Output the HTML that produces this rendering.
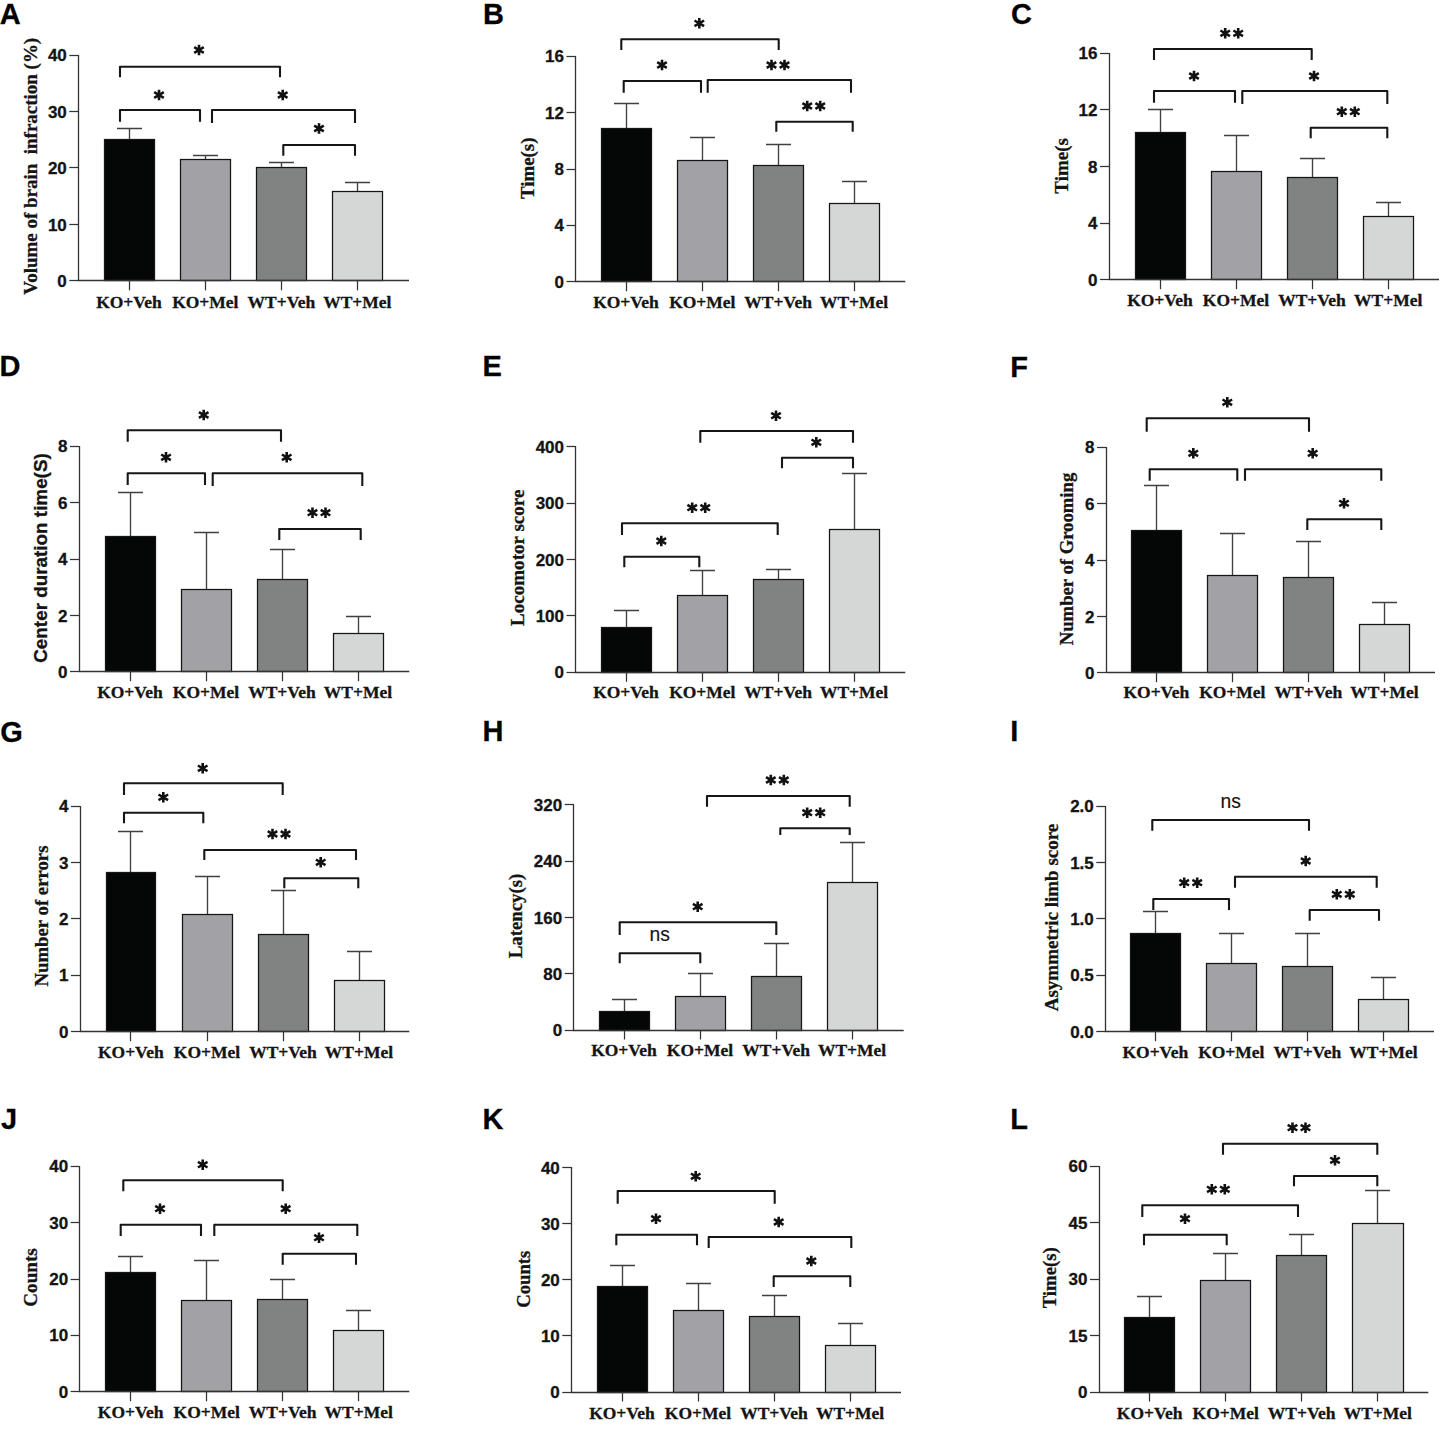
<!DOCTYPE html>
<html><head><meta charset="utf-8"><title>Figure</title>
<style>
html,body{margin:0;padding:0;background:#fff;}
body{width:1446px;height:1432px;overflow:hidden;}
svg{display:block;}
text{fill:#141414;stroke:#141414;stroke-width:0.3px;}
.pl{font-family:"Liberation Sans",sans-serif;font-weight:bold;font-size:29px;fill:#000;}
.tl{font-family:"Liberation Sans",sans-serif;font-weight:bold;font-size:17px;text-anchor:end;}
.xl{font-family:"Liberation Serif",serif;font-weight:bold;font-size:17.5px;text-anchor:middle;}
.yt{font-family:"Liberation Serif",serif;font-weight:bold;text-anchor:middle;}
.yts{font-family:"Liberation Sans",sans-serif;font-weight:bold;text-anchor:middle;}
.ns{font-family:"Liberation Sans",sans-serif;font-size:19.3px;text-anchor:middle;stroke-width:0.15px;}
</style></head><body>
<svg width="1446" height="1432" viewBox="0 0 1446 1432">
<rect width="1446" height="1432" fill="#ffffff"/>
<g>
<text x="-0.3" y="24.1" class="pl">A</text>
<path d="M129.5 139.5V128.5M117 128.5H142" stroke="#404040" stroke-width="1.35" fill="none"/>
<rect x="104.5" y="139.5" width="50" height="141" fill="#050707" stroke="#151515" stroke-width="1.25"/>
<path d="M129.5 280.8V290.3" stroke="#333333" stroke-width="1.25"/>
<text x="129" y="307.8" class="xl">KO+Veh</text>
<path d="M205.5 159.5V155.5M193 155.5H218" stroke="#404040" stroke-width="1.35" fill="none"/>
<rect x="180.5" y="159.5" width="50" height="121" fill="#a2a1a5" stroke="#151515" stroke-width="1.25"/>
<path d="M205.5 280.8V290.3" stroke="#333333" stroke-width="1.25"/>
<text x="205.3" y="307.8" class="xl">KO+Mel</text>
<path d="M281.5 167.5V162.5M269 162.5H294" stroke="#404040" stroke-width="1.35" fill="none"/>
<rect x="256.5" y="167.5" width="50" height="113" fill="#818383" stroke="#151515" stroke-width="1.25"/>
<path d="M281.5 280.8V290.3" stroke="#333333" stroke-width="1.25"/>
<text x="281.4" y="307.8" class="xl">WT+Veh</text>
<path d="M357.5 191.5V182.5M345 182.5H370" stroke="#404040" stroke-width="1.35" fill="none"/>
<rect x="332.5" y="191.5" width="50" height="89" fill="#d5d7d6" stroke="#151515" stroke-width="1.25"/>
<path d="M357.5 280.8V290.3" stroke="#333333" stroke-width="1.25"/>
<text x="357.3" y="307.8" class="xl">WT+Mel</text>
<path d="M78.5 54.9V280.5H409" stroke="#333333" stroke-width="1.3" fill="none"/>
<path d="M69.3 280.5H78.3" stroke="#333333" stroke-width="1.25"/>
<text x="66.8" y="286.9" class="tl">0</text>
<path d="M69.3 224.5H78.3" stroke="#333333" stroke-width="1.25"/>
<text x="66.8" y="230.5" class="tl">10</text>
<path d="M69.3 167.5H78.3" stroke="#333333" stroke-width="1.25"/>
<text x="66.8" y="174" class="tl">20</text>
<path d="M69.3 111.5H78.3" stroke="#333333" stroke-width="1.25"/>
<text x="66.8" y="117.5" class="tl">30</text>
<path d="M69.3 55.5H78.3" stroke="#333333" stroke-width="1.25"/>
<text x="66.8" y="61.1" class="tl">40</text>
<text transform="translate(37.2 166.3) rotate(-90)" class="yt" font-size="18.97" textLength="257" lengthAdjust="spacingAndGlyphs">Volume of brain  infraction (%)</text>
<path d="M120 77.3V66.7H280V77.3" stroke="#161616" stroke-width="2.1" fill="none" stroke-linejoin="round"/>
<path d="M199 44.8L199 55.2M194.2 47.2L203.8 52.8M203.8 47.2L194.2 52.8" stroke="#111" stroke-width="2.6" fill="none"/>
<path d="M120 121.7V110H200V121.7" stroke="#161616" stroke-width="2.1" fill="none" stroke-linejoin="round"/>
<path d="M159 89.8L159 100.2M154.2 92.2L163.8 97.8M163.8 92.2L154.2 97.8" stroke="#111" stroke-width="2.6" fill="none"/>
<path d="M212 123V110H355V123" stroke="#161616" stroke-width="2.1" fill="none" stroke-linejoin="round"/>
<path d="M282.7 89.8L282.7 100.2M277.9 92.2L287.5 97.8M287.5 92.2L277.9 97.8" stroke="#111" stroke-width="2.6" fill="none"/>
<path d="M283.3 155.7V145H355V155.7" stroke="#161616" stroke-width="2.1" fill="none" stroke-linejoin="round"/>
<path d="M319 123.3L319 133.7M314.2 125.7L323.8 131.3M323.8 125.7L314.2 131.3" stroke="#111" stroke-width="2.6" fill="none"/>
</g>
<g>
<text x="482.9" y="24.1" class="pl">B</text>
<path d="M626.5 128.5V103.5M614 103.5H639" stroke="#404040" stroke-width="1.35" fill="none"/>
<rect x="601.5" y="128.5" width="50" height="153" fill="#050707" stroke="#151515" stroke-width="1.25"/>
<path d="M626.5 281.7V291.2" stroke="#333333" stroke-width="1.25"/>
<text x="626" y="308.3" class="xl">KO+Veh</text>
<path d="M702.5 160.5V137.5M690 137.5H715" stroke="#404040" stroke-width="1.35" fill="none"/>
<rect x="677.5" y="160.5" width="50" height="121" fill="#a2a1a5" stroke="#151515" stroke-width="1.25"/>
<path d="M702.5 281.7V291.2" stroke="#333333" stroke-width="1.25"/>
<text x="702.3" y="308.3" class="xl">KO+Mel</text>
<path d="M778.5 165.5V144.5M766 144.5H791" stroke="#404040" stroke-width="1.35" fill="none"/>
<rect x="753.5" y="165.5" width="50" height="116" fill="#818383" stroke="#151515" stroke-width="1.25"/>
<path d="M778.5 281.7V291.2" stroke="#333333" stroke-width="1.25"/>
<text x="778.1" y="308.3" class="xl">WT+Veh</text>
<path d="M854.5 203.5V181.5M842 181.5H867" stroke="#404040" stroke-width="1.35" fill="none"/>
<rect x="829.5" y="203.5" width="50" height="78" fill="#d5d7d6" stroke="#151515" stroke-width="1.25"/>
<path d="M854.5 281.7V291.2" stroke="#333333" stroke-width="1.25"/>
<text x="854.1" y="308.3" class="xl">WT+Mel</text>
<path d="M575.5 55.9V281.5H905.3" stroke="#333333" stroke-width="1.3" fill="none"/>
<path d="M566.5 281.5H575.5" stroke="#333333" stroke-width="1.25"/>
<text x="564" y="287.8" class="tl">0</text>
<path d="M566.5 225.5H575.5" stroke="#333333" stroke-width="1.25"/>
<text x="564" y="231.4" class="tl">4</text>
<path d="M566.5 169.5H575.5" stroke="#333333" stroke-width="1.25"/>
<text x="564" y="175.1" class="tl">8</text>
<path d="M566.5 112.5H575.5" stroke="#333333" stroke-width="1.25"/>
<text x="564" y="118.8" class="tl">12</text>
<path d="M566.5 56.5H575.5" stroke="#333333" stroke-width="1.25"/>
<text x="564" y="62.4" class="tl">16</text>
<text transform="translate(534.4 168.3) rotate(-90)" class="yt" font-size="18.87" textLength="61.5" lengthAdjust="spacingAndGlyphs">Time(s)</text>
<path d="M621.3 50V39.3H778.7V50" stroke="#161616" stroke-width="2.1" fill="none" stroke-linejoin="round"/>
<path d="M699.3 18.1L699.3 28.5M694.5 20.5L704.1 26.1M704.1 20.5L694.5 26.1" stroke="#111" stroke-width="2.6" fill="none"/>
<path d="M623.7 92.7V81H701V92.7" stroke="#161616" stroke-width="2.1" fill="none" stroke-linejoin="round"/>
<path d="M662 59.8L662 70.2M657.2 62.2L666.8 67.8M666.8 62.2L657.2 67.8" stroke="#111" stroke-width="2.6" fill="none"/>
<path d="M707.7 92.7V80H851V92.7" stroke="#161616" stroke-width="2.1" fill="none" stroke-linejoin="round"/>
<path d="M771.5 59.8L771.5 70.2M766.7 62.2L776.3 67.8M776.3 62.2L766.7 67.8" stroke="#111" stroke-width="2.6" fill="none"/>
<path d="M784.5 59.8L784.5 70.2M779.7 62.2L789.3 67.8M789.3 62.2L779.7 67.8" stroke="#111" stroke-width="2.6" fill="none"/>
<path d="M776.3 131.7V121.7H852.7V131.7" stroke="#161616" stroke-width="2.1" fill="none" stroke-linejoin="round"/>
<path d="M807.2 100.8L807.2 111.2M802.4 103.2L812 108.8M812 103.2L802.4 108.8" stroke="#111" stroke-width="2.6" fill="none"/>
<path d="M820.2 100.8L820.2 111.2M815.4 103.2L825 108.8M825 103.2L815.4 108.8" stroke="#111" stroke-width="2.6" fill="none"/>
</g>
<g>
<text x="1010.9" y="24.1" class="pl">C</text>
<path d="M1160.5 132.5V109.5M1148 109.5H1173" stroke="#404040" stroke-width="1.35" fill="none"/>
<rect x="1135.5" y="132.5" width="50" height="147" fill="#050707" stroke="#151515" stroke-width="1.25"/>
<path d="M1160.5 279.7V289.2" stroke="#333333" stroke-width="1.25"/>
<text x="1160" y="306" class="xl">KO+Veh</text>
<path d="M1236.5 171.5V135.5M1224 135.5H1249" stroke="#404040" stroke-width="1.35" fill="none"/>
<rect x="1211.5" y="171.5" width="50" height="108" fill="#a2a1a5" stroke="#151515" stroke-width="1.25"/>
<path d="M1236.5 279.7V289.2" stroke="#333333" stroke-width="1.25"/>
<text x="1236" y="306" class="xl">KO+Mel</text>
<path d="M1312.5 177.5V158.5M1300 158.5H1325" stroke="#404040" stroke-width="1.35" fill="none"/>
<rect x="1287.5" y="177.5" width="50" height="102" fill="#818383" stroke="#151515" stroke-width="1.25"/>
<path d="M1312.5 279.7V289.2" stroke="#333333" stroke-width="1.25"/>
<text x="1312" y="306" class="xl">WT+Veh</text>
<path d="M1388.5 216.5V202.5M1376 202.5H1401" stroke="#404040" stroke-width="1.35" fill="none"/>
<rect x="1363.5" y="216.5" width="50" height="63" fill="#d5d7d6" stroke="#151515" stroke-width="1.25"/>
<path d="M1388.5 279.7V289.2" stroke="#333333" stroke-width="1.25"/>
<text x="1388.2" y="306" class="xl">WT+Mel</text>
<path d="M1109.5 52.9V279.5H1439" stroke="#333333" stroke-width="1.3" fill="none"/>
<path d="M1100 279.5H1109" stroke="#333333" stroke-width="1.25"/>
<text x="1097.5" y="285.8" class="tl">0</text>
<path d="M1100 223.5H1109" stroke="#333333" stroke-width="1.25"/>
<text x="1097.5" y="229.2" class="tl">4</text>
<path d="M1100 166.5H1109" stroke="#333333" stroke-width="1.25"/>
<text x="1097.5" y="172.6" class="tl">8</text>
<path d="M1100 109.5H1109" stroke="#333333" stroke-width="1.25"/>
<text x="1097.5" y="116" class="tl">12</text>
<path d="M1100 53.5H1109" stroke="#333333" stroke-width="1.25"/>
<text x="1097.5" y="59.4" class="tl">16</text>
<text transform="translate(1068.3 165.9) rotate(-90)" class="yt" font-size="18.97" textLength="55.5" lengthAdjust="spacingAndGlyphs">Time(s</text>
<path d="M1154 60V49H1311.7V60" stroke="#161616" stroke-width="2.1" fill="none" stroke-linejoin="round"/>
<path d="M1225.2 28.1L1225.2 38.5M1220.4 30.5L1230 36.1M1230 30.5L1220.4 36.1" stroke="#111" stroke-width="2.6" fill="none"/>
<path d="M1238.2 28.1L1238.2 38.5M1233.4 30.5L1243 36.1M1243 30.5L1233.4 36.1" stroke="#111" stroke-width="2.6" fill="none"/>
<path d="M1154 102.7V91H1235V102.7" stroke="#161616" stroke-width="2.1" fill="none" stroke-linejoin="round"/>
<path d="M1194 70.8L1194 81.2M1189.2 73.2L1198.8 78.8M1198.8 73.2L1189.2 78.8" stroke="#111" stroke-width="2.6" fill="none"/>
<path d="M1242.3 104V91H1387.3V104" stroke="#161616" stroke-width="2.1" fill="none" stroke-linejoin="round"/>
<path d="M1314 70.8L1314 81.2M1309.2 73.2L1318.8 78.8M1318.8 73.2L1309.2 78.8" stroke="#111" stroke-width="2.6" fill="none"/>
<path d="M1310.7 138.3V127.7H1387.3V138.3" stroke="#161616" stroke-width="2.1" fill="none" stroke-linejoin="round"/>
<path d="M1341.8 106.5L1341.8 116.9M1337 108.9L1346.6 114.5M1346.6 108.9L1337 114.5" stroke="#111" stroke-width="2.6" fill="none"/>
<path d="M1354.8 106.5L1354.8 116.9M1350 108.9L1359.6 114.5M1359.6 108.9L1350 114.5" stroke="#111" stroke-width="2.6" fill="none"/>
</g>
<g>
<text x="-0.4" y="376" class="pl">D</text>
<path d="M130.5 536.5V492.5M118 492.5H143" stroke="#404040" stroke-width="1.35" fill="none"/>
<rect x="105.5" y="536.5" width="50" height="135" fill="#050707" stroke="#151515" stroke-width="1.25"/>
<path d="M130.5 671.7V681.2" stroke="#333333" stroke-width="1.25"/>
<text x="130" y="697.7" class="xl">KO+Veh</text>
<path d="M206.5 589.5V532.5M194 532.5H219" stroke="#404040" stroke-width="1.35" fill="none"/>
<rect x="181.5" y="589.5" width="50" height="82" fill="#a2a1a5" stroke="#151515" stroke-width="1.25"/>
<path d="M206.5 671.7V681.2" stroke="#333333" stroke-width="1.25"/>
<text x="206" y="697.7" class="xl">KO+Mel</text>
<path d="M282.5 579.5V549.5M270 549.5H295" stroke="#404040" stroke-width="1.35" fill="none"/>
<rect x="257.5" y="579.5" width="50" height="92" fill="#818383" stroke="#151515" stroke-width="1.25"/>
<path d="M282.5 671.7V681.2" stroke="#333333" stroke-width="1.25"/>
<text x="282" y="697.7" class="xl">WT+Veh</text>
<path d="M358.5 633.5V616.5M346 616.5H371" stroke="#404040" stroke-width="1.35" fill="none"/>
<rect x="333.5" y="633.5" width="50" height="38" fill="#d5d7d6" stroke="#151515" stroke-width="1.25"/>
<path d="M358.5 671.7V681.2" stroke="#333333" stroke-width="1.25"/>
<text x="358" y="697.7" class="xl">WT+Mel</text>
<path d="M79.5 445.9V671.5H409.3" stroke="#333333" stroke-width="1.3" fill="none"/>
<path d="M70 671.5H79" stroke="#333333" stroke-width="1.25"/>
<text x="67.5" y="677.8" class="tl">0</text>
<path d="M70 615.5H79" stroke="#333333" stroke-width="1.25"/>
<text x="67.5" y="621.5" class="tl">2</text>
<path d="M70 559.5H79" stroke="#333333" stroke-width="1.25"/>
<text x="67.5" y="565.1" class="tl">4</text>
<path d="M70 502.5H79" stroke="#333333" stroke-width="1.25"/>
<text x="67.5" y="508.8" class="tl">6</text>
<path d="M70 446.5H79" stroke="#333333" stroke-width="1.25"/>
<text x="67.5" y="452.4" class="tl">8</text>
<text transform="translate(47.2 558) rotate(-90)" class="yts" font-size="18.85" textLength="209.5" lengthAdjust="spacingAndGlyphs">Center duration time(S)</text>
<path d="M127.7 441.7V430.3H281V441.7" stroke="#161616" stroke-width="2.1" fill="none" stroke-linejoin="round"/>
<path d="M203.7 409.8L203.7 420.2M198.9 412.2L208.5 417.8M208.5 412.2L198.9 417.8" stroke="#111" stroke-width="2.6" fill="none"/>
<path d="M127.7 485V473.3H205V485" stroke="#161616" stroke-width="2.1" fill="none" stroke-linejoin="round"/>
<path d="M166 452.1L166 462.5M161.2 454.5L170.8 460.1M170.8 454.5L161.2 460.1" stroke="#111" stroke-width="2.6" fill="none"/>
<path d="M212.7 486V473.3H362.3V486" stroke="#161616" stroke-width="2.1" fill="none" stroke-linejoin="round"/>
<path d="M286.7 452.1L286.7 462.5M281.9 454.5L291.5 460.1M291.5 454.5L281.9 460.1" stroke="#111" stroke-width="2.6" fill="none"/>
<path d="M279.3 540V529H360.7V540" stroke="#161616" stroke-width="2.1" fill="none" stroke-linejoin="round"/>
<path d="M312.5 507.5L312.5 517.9M307.7 509.9L317.3 515.5M317.3 509.9L307.7 515.5" stroke="#111" stroke-width="2.6" fill="none"/>
<path d="M325.5 507.5L325.5 517.9M320.7 509.9L330.3 515.5M330.3 509.9L320.7 515.5" stroke="#111" stroke-width="2.6" fill="none"/>
</g>
<g>
<text x="482.6" y="376" class="pl">E</text>
<path d="M626.5 627.5V610.5M614 610.5H639" stroke="#404040" stroke-width="1.35" fill="none"/>
<rect x="601.5" y="627.5" width="50" height="45" fill="#050707" stroke="#151515" stroke-width="1.25"/>
<path d="M626.5 672.3V681.8" stroke="#333333" stroke-width="1.25"/>
<text x="626" y="698.3" class="xl">KO+Veh</text>
<path d="M702.5 595.5V570.5M690 570.5H715" stroke="#404040" stroke-width="1.35" fill="none"/>
<rect x="677.5" y="595.5" width="50" height="77" fill="#a2a1a5" stroke="#151515" stroke-width="1.25"/>
<path d="M702.5 672.3V681.8" stroke="#333333" stroke-width="1.25"/>
<text x="702.3" y="698.3" class="xl">KO+Mel</text>
<path d="M778.5 579.5V569.5M766 569.5H791" stroke="#404040" stroke-width="1.35" fill="none"/>
<rect x="753.5" y="579.5" width="50" height="93" fill="#818383" stroke="#151515" stroke-width="1.25"/>
<path d="M778.5 672.3V681.8" stroke="#333333" stroke-width="1.25"/>
<text x="778.1" y="698.3" class="xl">WT+Veh</text>
<path d="M854.5 529.5V473.5M842 473.5H867" stroke="#404040" stroke-width="1.35" fill="none"/>
<rect x="829.5" y="529.5" width="50" height="143" fill="#d5d7d6" stroke="#151515" stroke-width="1.25"/>
<path d="M854.5 672.3V681.8" stroke="#333333" stroke-width="1.25"/>
<text x="854.1" y="698.3" class="xl">WT+Mel</text>
<path d="M575.5 445.9V672.5H905.3" stroke="#333333" stroke-width="1.3" fill="none"/>
<path d="M566.5 672.5H575.5" stroke="#333333" stroke-width="1.25"/>
<text x="564" y="678.4" class="tl">0</text>
<path d="M566.5 615.5H575.5" stroke="#333333" stroke-width="1.25"/>
<text x="564" y="622" class="tl">100</text>
<path d="M566.5 559.5H575.5" stroke="#333333" stroke-width="1.25"/>
<text x="564" y="565.6" class="tl">200</text>
<path d="M566.5 503.5H575.5" stroke="#333333" stroke-width="1.25"/>
<text x="564" y="509.2" class="tl">300</text>
<path d="M566.5 446.5H575.5" stroke="#333333" stroke-width="1.25"/>
<text x="564" y="452.8" class="tl">400</text>
<text transform="translate(523.7 557.8) rotate(-90)" class="yt" font-size="19.08" textLength="136.5" lengthAdjust="spacingAndGlyphs">Locomotor score</text>
<path d="M700.3 442.7V431H853V442.7" stroke="#161616" stroke-width="2.1" fill="none" stroke-linejoin="round"/>
<path d="M776 410.5L776 420.9M771.2 412.9L780.8 418.5M780.8 412.9L771.2 418.5" stroke="#111" stroke-width="2.6" fill="none"/>
<path d="M782 468.3V457.7H853V468.3" stroke="#161616" stroke-width="2.1" fill="none" stroke-linejoin="round"/>
<path d="M816.3 437.1L816.3 447.5M811.5 439.5L821.1 445.1M821.1 439.5L811.5 445.1" stroke="#111" stroke-width="2.6" fill="none"/>
<path d="M622 535V523.3H777.7V535" stroke="#161616" stroke-width="2.1" fill="none" stroke-linejoin="round"/>
<path d="M692.2 502.5L692.2 512.9M687.4 504.9L697 510.5M697 504.9L687.4 510.5" stroke="#111" stroke-width="2.6" fill="none"/>
<path d="M705.2 502.5L705.2 512.9M700.4 504.9L710 510.5M710 504.9L700.4 510.5" stroke="#111" stroke-width="2.6" fill="none"/>
<path d="M624.3 567.3V556.7H699.3V567.3" stroke="#161616" stroke-width="2.1" fill="none" stroke-linejoin="round"/>
<path d="M661.3 535.8L661.3 546.2M656.5 538.2L666.1 543.8M666.1 538.2L656.5 543.8" stroke="#111" stroke-width="2.6" fill="none"/>
</g>
<g>
<text x="1010.2" y="376.5" class="pl">F</text>
<path d="M1156.5 530.5V485.5M1144 485.5H1169" stroke="#404040" stroke-width="1.35" fill="none"/>
<rect x="1131.5" y="530.5" width="50" height="142" fill="#050707" stroke="#151515" stroke-width="1.25"/>
<path d="M1156.5 672.7V682.2" stroke="#333333" stroke-width="1.25"/>
<text x="1156.3" y="698.3" class="xl">KO+Veh</text>
<path d="M1232.5 575.5V533.5M1220 533.5H1245" stroke="#404040" stroke-width="1.35" fill="none"/>
<rect x="1207.5" y="575.5" width="50" height="97" fill="#a2a1a5" stroke="#151515" stroke-width="1.25"/>
<path d="M1232.5 672.7V682.2" stroke="#333333" stroke-width="1.25"/>
<text x="1232.3" y="698.3" class="xl">KO+Mel</text>
<path d="M1308.5 577.5V541.5M1296 541.5H1321" stroke="#404040" stroke-width="1.35" fill="none"/>
<rect x="1283.5" y="577.5" width="50" height="95" fill="#818383" stroke="#151515" stroke-width="1.25"/>
<path d="M1308.5 672.7V682.2" stroke="#333333" stroke-width="1.25"/>
<text x="1308.3" y="698.3" class="xl">WT+Veh</text>
<path d="M1384.5 624.5V602.5M1372 602.5H1397" stroke="#404040" stroke-width="1.35" fill="none"/>
<rect x="1359.5" y="624.5" width="50" height="48" fill="#d5d7d6" stroke="#151515" stroke-width="1.25"/>
<path d="M1384.5 672.7V682.2" stroke="#333333" stroke-width="1.25"/>
<text x="1384.5" y="698.3" class="xl">WT+Mel</text>
<path d="M1106.5 446.9V672.5H1435" stroke="#333333" stroke-width="1.3" fill="none"/>
<path d="M1097 672.5H1106" stroke="#333333" stroke-width="1.25"/>
<text x="1094.5" y="678.8" class="tl">0</text>
<path d="M1097 616.5H1106" stroke="#333333" stroke-width="1.25"/>
<text x="1094.5" y="622.5" class="tl">2</text>
<path d="M1097 560.5H1106" stroke="#333333" stroke-width="1.25"/>
<text x="1094.5" y="566.1" class="tl">4</text>
<path d="M1097 503.5H1106" stroke="#333333" stroke-width="1.25"/>
<text x="1094.5" y="509.8" class="tl">6</text>
<path d="M1097 447.5H1106" stroke="#333333" stroke-width="1.25"/>
<text x="1094.5" y="453.4" class="tl">8</text>
<text transform="translate(1073.3 559) rotate(-90)" class="yt" font-size="18.67" textLength="172.5" lengthAdjust="spacingAndGlyphs">Number of Grooming</text>
<path d="M1146.7 431.7V418.3H1309V431.7" stroke="#161616" stroke-width="2.1" fill="none" stroke-linejoin="round"/>
<path d="M1227.3 397.1L1227.3 407.5M1222.5 399.5L1232.1 405.1M1232.1 399.5L1222.5 405.1" stroke="#111" stroke-width="2.6" fill="none"/>
<path d="M1149.7 480.7V469.3H1237.3V480.7" stroke="#161616" stroke-width="2.1" fill="none" stroke-linejoin="round"/>
<path d="M1193.3 448.1L1193.3 458.5M1188.5 450.5L1198.1 456.1M1198.1 450.5L1188.5 456.1" stroke="#111" stroke-width="2.6" fill="none"/>
<path d="M1245 480.7V469.3H1381.3V480.7" stroke="#161616" stroke-width="2.1" fill="none" stroke-linejoin="round"/>
<path d="M1312.7 448.1L1312.7 458.5M1307.9 450.5L1317.5 456.1M1317.5 450.5L1307.9 456.1" stroke="#111" stroke-width="2.6" fill="none"/>
<path d="M1307.3 530V519.3H1381.3V530" stroke="#161616" stroke-width="2.1" fill="none" stroke-linejoin="round"/>
<path d="M1344 498.1L1344 508.5M1339.2 500.5L1348.8 506.1M1348.8 500.5L1339.2 506.1" stroke="#111" stroke-width="2.6" fill="none"/>
</g>
<g>
<text x="0.3" y="741.5" class="pl">G</text>
<path d="M130.5 872.5V831.5M118 831.5H143" stroke="#404040" stroke-width="1.35" fill="none"/>
<rect x="106.5" y="872.5" width="49" height="159" fill="#050707" stroke="#151515" stroke-width="1.25"/>
<path d="M130.5 1031.7V1041.2" stroke="#333333" stroke-width="1.25"/>
<text x="130.8" y="1057.7" class="xl">KO+Veh</text>
<path d="M207.5 914.5V876.5M195 876.5H220" stroke="#404040" stroke-width="1.35" fill="none"/>
<rect x="182.5" y="914.5" width="50" height="117" fill="#a2a1a5" stroke="#151515" stroke-width="1.25"/>
<path d="M207.5 1031.7V1041.2" stroke="#333333" stroke-width="1.25"/>
<text x="207" y="1057.7" class="xl">KO+Mel</text>
<path d="M283.5 934.5V890.5M271 890.5H296" stroke="#404040" stroke-width="1.35" fill="none"/>
<rect x="258.5" y="934.5" width="50" height="97" fill="#818383" stroke="#151515" stroke-width="1.25"/>
<path d="M283.5 1031.7V1041.2" stroke="#333333" stroke-width="1.25"/>
<text x="283" y="1057.7" class="xl">WT+Veh</text>
<path d="M359.5 980.5V951.5M347 951.5H372" stroke="#404040" stroke-width="1.35" fill="none"/>
<rect x="334.5" y="980.5" width="50" height="51" fill="#d5d7d6" stroke="#151515" stroke-width="1.25"/>
<path d="M359.5 1031.7V1041.2" stroke="#333333" stroke-width="1.25"/>
<text x="359" y="1057.7" class="xl">WT+Mel</text>
<path d="M80.5 805.9V1031.5H409.3" stroke="#333333" stroke-width="1.3" fill="none"/>
<path d="M71 1031.5H80" stroke="#333333" stroke-width="1.25"/>
<text x="68.5" y="1037.8" class="tl">0</text>
<path d="M71 975.5H80" stroke="#333333" stroke-width="1.25"/>
<text x="68.5" y="981.4" class="tl">1</text>
<path d="M71 918.5H80" stroke="#333333" stroke-width="1.25"/>
<text x="68.5" y="925" class="tl">2</text>
<path d="M71 862.5H80" stroke="#333333" stroke-width="1.25"/>
<text x="68.5" y="868.5" class="tl">3</text>
<path d="M71 806.5H80" stroke="#333333" stroke-width="1.25"/>
<text x="68.5" y="812.1" class="tl">4</text>
<text transform="translate(47.7 916) rotate(-90)" class="yt" font-size="18.76" textLength="141" lengthAdjust="spacingAndGlyphs">Number of errors</text>
<path d="M124 795V783.3H282.7V795" stroke="#161616" stroke-width="2.1" fill="none" stroke-linejoin="round"/>
<path d="M202.7 763.1L202.7 773.5M197.9 765.5L207.5 771.1M207.5 765.5L197.9 771.1" stroke="#111" stroke-width="2.6" fill="none"/>
<path d="M124 823.3V812.7H203.3V823.3" stroke="#161616" stroke-width="2.1" fill="none" stroke-linejoin="round"/>
<path d="M163.3 792.1L163.3 802.5M158.5 794.5L168.1 800.1M168.1 794.5L158.5 800.1" stroke="#111" stroke-width="2.6" fill="none"/>
<path d="M204.3 860V850H356V860" stroke="#161616" stroke-width="2.1" fill="none" stroke-linejoin="round"/>
<path d="M272.5 828.8L272.5 839.2M267.7 831.2L277.3 836.8M277.3 831.2L267.7 836.8" stroke="#111" stroke-width="2.6" fill="none"/>
<path d="M285.5 828.8L285.5 839.2M280.7 831.2L290.3 836.8M290.3 831.2L280.7 836.8" stroke="#111" stroke-width="2.6" fill="none"/>
<path d="M284.3 888.3V878.3H358.3V888.3" stroke="#161616" stroke-width="2.1" fill="none" stroke-linejoin="round"/>
<path d="M320.7 857.1L320.7 867.5M315.9 859.5L325.5 865.1M325.5 859.5L315.9 865.1" stroke="#111" stroke-width="2.6" fill="none"/>
</g>
<g>
<text x="482.6" y="740.7" class="pl">H</text>
<path d="M624.5 1011.5V999.5M612 999.5H637" stroke="#404040" stroke-width="1.35" fill="none"/>
<rect x="599.5" y="1011.5" width="50" height="19" fill="#050707" stroke="#151515" stroke-width="1.25"/>
<path d="M624.5 1030V1039.5" stroke="#333333" stroke-width="1.25"/>
<text x="624" y="1055.7" class="xl">KO+Veh</text>
<path d="M700.5 996.5V973.5M688 973.5H713" stroke="#404040" stroke-width="1.35" fill="none"/>
<rect x="675.5" y="996.5" width="50" height="34" fill="#a2a1a5" stroke="#151515" stroke-width="1.25"/>
<path d="M700.5 1030V1039.5" stroke="#333333" stroke-width="1.25"/>
<text x="700" y="1055.7" class="xl">KO+Mel</text>
<path d="M776.5 976.5V943.5M764 943.5H789" stroke="#404040" stroke-width="1.35" fill="none"/>
<rect x="751.5" y="976.5" width="50" height="54" fill="#818383" stroke="#151515" stroke-width="1.25"/>
<path d="M776.5 1030V1039.5" stroke="#333333" stroke-width="1.25"/>
<text x="776.1" y="1055.7" class="xl">WT+Veh</text>
<path d="M852.5 882.5V842.5M840 842.5H865" stroke="#404040" stroke-width="1.35" fill="none"/>
<rect x="827.5" y="882.5" width="50" height="148" fill="#d5d7d6" stroke="#151515" stroke-width="1.25"/>
<path d="M852.5 1030V1039.5" stroke="#333333" stroke-width="1.25"/>
<text x="852.1" y="1055.7" class="xl">WT+Mel</text>
<path d="M573.5 803.9V1030.5H903.7" stroke="#333333" stroke-width="1.3" fill="none"/>
<path d="M564.7 1030.5H573.7" stroke="#333333" stroke-width="1.25"/>
<text x="562.2" y="1036.1" class="tl">0</text>
<path d="M564.7 973.5H573.7" stroke="#333333" stroke-width="1.25"/>
<text x="562.2" y="979.8" class="tl">80</text>
<path d="M564.7 917.5H573.7" stroke="#333333" stroke-width="1.25"/>
<text x="562.2" y="923.5" class="tl">160</text>
<path d="M564.7 861.5H573.7" stroke="#333333" stroke-width="1.25"/>
<text x="562.2" y="867.1" class="tl">240</text>
<path d="M564.7 804.5H573.7" stroke="#333333" stroke-width="1.25"/>
<text x="562.2" y="810.8" class="tl">320</text>
<text transform="translate(522 916) rotate(-90)" class="yt" font-size="18.78" textLength="84.5" lengthAdjust="spacingAndGlyphs">Latency(s)</text>
<path d="M707 806.7V796H849.7V806.7" stroke="#161616" stroke-width="2.1" fill="none" stroke-linejoin="round"/>
<path d="M770.8 774.8L770.8 785.2M766 777.2L775.6 782.8M775.6 777.2L766 782.8" stroke="#111" stroke-width="2.6" fill="none"/>
<path d="M783.8 774.8L783.8 785.2M779 777.2L788.6 782.8M788.6 777.2L779 782.8" stroke="#111" stroke-width="2.6" fill="none"/>
<path d="M780.3 835V828.3H849.7V835" stroke="#161616" stroke-width="2.1" fill="none" stroke-linejoin="round"/>
<path d="M807.2 807.5L807.2 817.9M802.4 809.9L812 815.5M812 809.9L802.4 815.5" stroke="#111" stroke-width="2.6" fill="none"/>
<path d="M820.2 807.5L820.2 817.9M815.4 809.9L825 815.5M825 809.9L815.4 815.5" stroke="#111" stroke-width="2.6" fill="none"/>
<path d="M619.7 935V922.3H776.3V935" stroke="#161616" stroke-width="2.1" fill="none" stroke-linejoin="round"/>
<path d="M697.7 901.5L697.7 911.9M692.9 903.9L702.5 909.5M702.5 903.9L692.9 909.5" stroke="#111" stroke-width="2.6" fill="none"/>
<path d="M619.7 963.3V953.3H700.3V963.3" stroke="#161616" stroke-width="2.1" fill="none" stroke-linejoin="round"/>
<text x="659.7" y="940.9" class="ns">ns</text>
</g>
<g>
<text x="1010.2" y="740.7" class="pl">I</text>
<path d="M1155.5 933.5V911.5M1143 911.5H1168" stroke="#404040" stroke-width="1.35" fill="none"/>
<rect x="1130.5" y="933.5" width="50" height="98" fill="#050707" stroke="#151515" stroke-width="1.25"/>
<path d="M1155.5 1031.7V1041.2" stroke="#333333" stroke-width="1.25"/>
<text x="1155.3" y="1057.7" class="xl">KO+Veh</text>
<path d="M1231.5 963.5V933.5M1219 933.5H1244" stroke="#404040" stroke-width="1.35" fill="none"/>
<rect x="1206.5" y="963.5" width="50" height="68" fill="#a2a1a5" stroke="#151515" stroke-width="1.25"/>
<path d="M1231.5 1031.7V1041.2" stroke="#333333" stroke-width="1.25"/>
<text x="1231.3" y="1057.7" class="xl">KO+Mel</text>
<path d="M1307.5 966.5V933.5M1295 933.5H1320" stroke="#404040" stroke-width="1.35" fill="none"/>
<rect x="1282.5" y="966.5" width="50" height="65" fill="#818383" stroke="#151515" stroke-width="1.25"/>
<path d="M1307.5 1031.7V1041.2" stroke="#333333" stroke-width="1.25"/>
<text x="1307.3" y="1057.7" class="xl">WT+Veh</text>
<path d="M1383.5 999.5V977.5M1371 977.5H1396" stroke="#404040" stroke-width="1.35" fill="none"/>
<rect x="1358.5" y="999.5" width="50" height="32" fill="#d5d7d6" stroke="#151515" stroke-width="1.25"/>
<path d="M1383.5 1031.7V1041.2" stroke="#333333" stroke-width="1.25"/>
<text x="1383.5" y="1057.7" class="xl">WT+Mel</text>
<path d="M1105.5 805.9V1031.5H1434" stroke="#333333" stroke-width="1.3" fill="none"/>
<path d="M1096.3 1031.5H1105.3" stroke="#333333" stroke-width="1.25"/>
<text x="1093.8" y="1037.8" class="tl">0.0</text>
<path d="M1096.3 975.5H1105.3" stroke="#333333" stroke-width="1.25"/>
<text x="1093.8" y="981.4" class="tl">0.5</text>
<path d="M1096.3 918.5H1105.3" stroke="#333333" stroke-width="1.25"/>
<text x="1093.8" y="925" class="tl">1.0</text>
<path d="M1096.3 862.5H1105.3" stroke="#333333" stroke-width="1.25"/>
<text x="1093.8" y="868.5" class="tl">1.5</text>
<path d="M1096.3 806.5H1105.3" stroke="#333333" stroke-width="1.25"/>
<text x="1093.8" y="812.1" class="tl">2.0</text>
<text transform="translate(1058.3 917.5) rotate(-90)" class="yt" font-size="19.00" textLength="187.5" lengthAdjust="spacingAndGlyphs">Asymmetric limb score</text>
<path d="M1152.3 830.7V820H1309V830.7" stroke="#161616" stroke-width="2.1" fill="none" stroke-linejoin="round"/>
<text x="1230.7" y="807.9" class="ns">ns</text>
<path d="M1153.3 910V899H1229V910" stroke="#161616" stroke-width="2.1" fill="none" stroke-linejoin="round"/>
<path d="M1184.2 877.5L1184.2 887.9M1179.4 879.9L1189 885.5M1189 879.9L1179.4 885.5" stroke="#111" stroke-width="2.6" fill="none"/>
<path d="M1197.2 877.5L1197.2 887.9M1192.4 879.9L1202 885.5M1202 879.9L1192.4 885.5" stroke="#111" stroke-width="2.6" fill="none"/>
<path d="M1235 887.7V876.7H1376.7V887.7" stroke="#161616" stroke-width="2.1" fill="none" stroke-linejoin="round"/>
<path d="M1305.7 855.8L1305.7 866.2M1300.9 858.2L1310.5 863.8M1310.5 858.2L1300.9 863.8" stroke="#111" stroke-width="2.6" fill="none"/>
<path d="M1309.7 920.7V910H1379V920.7" stroke="#161616" stroke-width="2.1" fill="none" stroke-linejoin="round"/>
<path d="M1336.8 889.1L1336.8 899.5M1332 891.5L1341.6 897.1M1341.6 891.5L1332 897.1" stroke="#111" stroke-width="2.6" fill="none"/>
<path d="M1349.8 889.1L1349.8 899.5M1345 891.5L1354.6 897.1M1354.6 891.5L1345 897.1" stroke="#111" stroke-width="2.6" fill="none"/>
</g>
<g>
<text x="1" y="1128.7" class="pl">J</text>
<path d="M130.5 1272.5V1256.5M118 1256.5H143" stroke="#404040" stroke-width="1.35" fill="none"/>
<rect x="105.5" y="1272.5" width="50" height="119" fill="#050707" stroke="#151515" stroke-width="1.25"/>
<path d="M130.5 1391.7V1401.2" stroke="#333333" stroke-width="1.25"/>
<text x="130.7" y="1418" class="xl">KO+Veh</text>
<path d="M206.5 1300.5V1260.5M194 1260.5H219" stroke="#404040" stroke-width="1.35" fill="none"/>
<rect x="181.5" y="1300.5" width="50" height="91" fill="#a2a1a5" stroke="#151515" stroke-width="1.25"/>
<path d="M206.5 1391.7V1401.2" stroke="#333333" stroke-width="1.25"/>
<text x="206.7" y="1418" class="xl">KO+Mel</text>
<path d="M282.5 1299.5V1279.5M270 1279.5H295" stroke="#404040" stroke-width="1.35" fill="none"/>
<rect x="257.5" y="1299.5" width="50" height="92" fill="#818383" stroke="#151515" stroke-width="1.25"/>
<path d="M282.5 1391.7V1401.2" stroke="#333333" stroke-width="1.25"/>
<text x="282.7" y="1418" class="xl">WT+Veh</text>
<path d="M358.5 1330.5V1310.5M346 1310.5H371" stroke="#404040" stroke-width="1.35" fill="none"/>
<rect x="333.5" y="1330.5" width="50" height="61" fill="#d5d7d6" stroke="#151515" stroke-width="1.25"/>
<path d="M358.5 1391.7V1401.2" stroke="#333333" stroke-width="1.25"/>
<text x="358.7" y="1418" class="xl">WT+Mel</text>
<path d="M79.5 1165.9V1391.5H409.3" stroke="#333333" stroke-width="1.3" fill="none"/>
<path d="M70.6 1391.5H79.6" stroke="#333333" stroke-width="1.25"/>
<text x="68.1" y="1397.8" class="tl">0</text>
<path d="M70.6 1335.5H79.6" stroke="#333333" stroke-width="1.25"/>
<text x="68.1" y="1341.4" class="tl">10</text>
<path d="M70.6 1279.5H79.6" stroke="#333333" stroke-width="1.25"/>
<text x="68.1" y="1285.1" class="tl">20</text>
<path d="M70.6 1222.5H79.6" stroke="#333333" stroke-width="1.25"/>
<text x="68.1" y="1228.8" class="tl">30</text>
<path d="M70.6 1166.5H79.6" stroke="#333333" stroke-width="1.25"/>
<text x="68.1" y="1172.4" class="tl">40</text>
<text transform="translate(37 1277.5) rotate(-90)" class="yt" font-size="19.14" textLength="58.5" lengthAdjust="spacingAndGlyphs">Counts</text>
<path d="M123.3 1191.3V1180.3H282.7V1191.3" stroke="#161616" stroke-width="2.1" fill="none" stroke-linejoin="round"/>
<path d="M202.7 1159.5L202.7 1169.9M197.9 1161.9L207.5 1167.5M207.5 1161.9L197.9 1167.5" stroke="#111" stroke-width="2.6" fill="none"/>
<path d="M120.7 1236V1224.7H201V1236" stroke="#161616" stroke-width="2.1" fill="none" stroke-linejoin="round"/>
<path d="M160 1203.5L160 1213.9M155.2 1205.9L164.8 1211.5M164.8 1205.9L155.2 1211.5" stroke="#111" stroke-width="2.6" fill="none"/>
<path d="M214.3 1236V1224.7H357.3V1236" stroke="#161616" stroke-width="2.1" fill="none" stroke-linejoin="round"/>
<path d="M285.7 1203.5L285.7 1213.9M280.9 1205.9L290.5 1211.5M290.5 1205.9L280.9 1211.5" stroke="#111" stroke-width="2.6" fill="none"/>
<path d="M282.7 1264.7V1253.7H356V1264.7" stroke="#161616" stroke-width="2.1" fill="none" stroke-linejoin="round"/>
<path d="M319 1232.5L319 1242.9M314.2 1234.9L323.8 1240.5M323.8 1234.9L314.2 1240.5" stroke="#111" stroke-width="2.6" fill="none"/>
</g>
<g>
<text x="482.6" y="1128.7" class="pl">K</text>
<path d="M622.5 1286.5V1265.5M610 1265.5H635" stroke="#404040" stroke-width="1.35" fill="none"/>
<rect x="597.5" y="1286.5" width="50" height="106" fill="#050707" stroke="#151515" stroke-width="1.25"/>
<path d="M622.5 1392V1401.5" stroke="#333333" stroke-width="1.25"/>
<text x="622" y="1418.7" class="xl">KO+Veh</text>
<path d="M698.5 1310.5V1283.5M686 1283.5H711" stroke="#404040" stroke-width="1.35" fill="none"/>
<rect x="673.5" y="1310.5" width="50" height="82" fill="#a2a1a5" stroke="#151515" stroke-width="1.25"/>
<path d="M698.5 1392V1401.5" stroke="#333333" stroke-width="1.25"/>
<text x="698" y="1418.7" class="xl">KO+Mel</text>
<path d="M774.5 1316.5V1295.5M762 1295.5H787" stroke="#404040" stroke-width="1.35" fill="none"/>
<rect x="749.5" y="1316.5" width="50" height="76" fill="#818383" stroke="#151515" stroke-width="1.25"/>
<path d="M774.5 1392V1401.5" stroke="#333333" stroke-width="1.25"/>
<text x="774" y="1418.7" class="xl">WT+Veh</text>
<path d="M850.5 1345.5V1323.5M838 1323.5H863" stroke="#404040" stroke-width="1.35" fill="none"/>
<rect x="825.5" y="1345.5" width="50" height="47" fill="#d5d7d6" stroke="#151515" stroke-width="1.25"/>
<path d="M850.5 1392V1401.5" stroke="#333333" stroke-width="1.25"/>
<text x="850.1" y="1418.7" class="xl">WT+Mel</text>
<path d="M571.5 1166.9V1392.5H901" stroke="#333333" stroke-width="1.3" fill="none"/>
<path d="M562.3 1392.5H571.3" stroke="#333333" stroke-width="1.25"/>
<text x="559.8" y="1398.1" class="tl">0</text>
<path d="M562.3 1335.5H571.3" stroke="#333333" stroke-width="1.25"/>
<text x="559.8" y="1342" class="tl">10</text>
<path d="M562.3 1279.5H571.3" stroke="#333333" stroke-width="1.25"/>
<text x="559.8" y="1285.9" class="tl">20</text>
<path d="M562.3 1223.5H571.3" stroke="#333333" stroke-width="1.25"/>
<text x="559.8" y="1229.9" class="tl">30</text>
<path d="M562.3 1167.5H571.3" stroke="#333333" stroke-width="1.25"/>
<text x="559.8" y="1173.8" class="tl">40</text>
<text transform="translate(529.7 1279.2) rotate(-90)" class="yt" font-size="18.65" textLength="57" lengthAdjust="spacingAndGlyphs">Counts</text>
<path d="M617.7 1203.7V1191H774.7V1203.7" stroke="#161616" stroke-width="2.1" fill="none" stroke-linejoin="round"/>
<path d="M695.7 1171.1L695.7 1181.5M690.9 1173.5L700.5 1179.1M700.5 1173.5L690.9 1179.1" stroke="#111" stroke-width="2.6" fill="none"/>
<path d="M616.3 1245.3V1234.7H697V1245.3" stroke="#161616" stroke-width="2.1" fill="none" stroke-linejoin="round"/>
<path d="M656 1213.5L656 1223.9M651.2 1215.9L660.8 1221.5M660.8 1215.9L651.2 1221.5" stroke="#111" stroke-width="2.6" fill="none"/>
<path d="M708.7 1248V1237H851.3V1248" stroke="#161616" stroke-width="2.1" fill="none" stroke-linejoin="round"/>
<path d="M778.7 1216.8L778.7 1227.2M773.9 1219.2L783.5 1224.8M783.5 1219.2L773.9 1224.8" stroke="#111" stroke-width="2.6" fill="none"/>
<path d="M773.7 1287V1276.3H850.3V1287" stroke="#161616" stroke-width="2.1" fill="none" stroke-linejoin="round"/>
<path d="M811.3 1255.8L811.3 1266.2M806.5 1258.2L816.1 1263.8M816.1 1258.2L806.5 1263.8" stroke="#111" stroke-width="2.6" fill="none"/>
</g>
<g>
<text x="1010.2" y="1128.7" class="pl">L</text>
<path d="M1149.5 1317.5V1296.5M1137 1296.5H1162" stroke="#404040" stroke-width="1.35" fill="none"/>
<rect x="1124.5" y="1317.5" width="50" height="75" fill="#050707" stroke="#151515" stroke-width="1.25"/>
<path d="M1149.5 1392V1401.5" stroke="#333333" stroke-width="1.25"/>
<text x="1149.7" y="1418.7" class="xl">KO+Veh</text>
<path d="M1225.5 1280.5V1253.5M1213 1253.5H1238" stroke="#404040" stroke-width="1.35" fill="none"/>
<rect x="1200.5" y="1280.5" width="50" height="112" fill="#a2a1a5" stroke="#151515" stroke-width="1.25"/>
<path d="M1225.5 1392V1401.5" stroke="#333333" stroke-width="1.25"/>
<text x="1225.7" y="1418.7" class="xl">KO+Mel</text>
<path d="M1301.5 1255.5V1234.5M1289 1234.5H1314" stroke="#404040" stroke-width="1.35" fill="none"/>
<rect x="1276.5" y="1255.5" width="50" height="137" fill="#818383" stroke="#151515" stroke-width="1.25"/>
<path d="M1301.5 1392V1401.5" stroke="#333333" stroke-width="1.25"/>
<text x="1301.7" y="1418.7" class="xl">WT+Veh</text>
<path d="M1377.5 1223.5V1190.5M1365 1190.5H1390" stroke="#404040" stroke-width="1.35" fill="none"/>
<rect x="1352.5" y="1223.5" width="51" height="169" fill="#d5d7d6" stroke="#151515" stroke-width="1.25"/>
<path d="M1377.5 1392V1401.5" stroke="#333333" stroke-width="1.25"/>
<text x="1377.8" y="1418.7" class="xl">WT+Mel</text>
<path d="M1099.5 1165.9V1392.5H1428.3" stroke="#333333" stroke-width="1.3" fill="none"/>
<path d="M1090 1392.5H1099" stroke="#333333" stroke-width="1.25"/>
<text x="1087.5" y="1398.1" class="tl">0</text>
<path d="M1090 1335.5H1099" stroke="#333333" stroke-width="1.25"/>
<text x="1087.5" y="1341.7" class="tl">15</text>
<path d="M1090 1279.5H1099" stroke="#333333" stroke-width="1.25"/>
<text x="1087.5" y="1285.2" class="tl">30</text>
<path d="M1090 1222.5H1099" stroke="#333333" stroke-width="1.25"/>
<text x="1087.5" y="1228.8" class="tl">45</text>
<path d="M1090 1166.5H1099" stroke="#333333" stroke-width="1.25"/>
<text x="1087.5" y="1172.4" class="tl">60</text>
<text transform="translate(1056.4 1277.8) rotate(-90)" class="yt" font-size="18.72" textLength="61" lengthAdjust="spacingAndGlyphs">Time(s)</text>
<path d="M1223 1154.7V1143.7H1377.3V1154.7" stroke="#161616" stroke-width="2.1" fill="none" stroke-linejoin="round"/>
<path d="M1292.5 1122.5L1292.5 1132.9M1287.7 1124.9L1297.3 1130.5M1297.3 1124.9L1287.7 1130.5" stroke="#111" stroke-width="2.6" fill="none"/>
<path d="M1305.5 1122.5L1305.5 1132.9M1300.7 1124.9L1310.3 1130.5M1310.3 1124.9L1300.7 1130.5" stroke="#111" stroke-width="2.6" fill="none"/>
<path d="M1294 1186.3V1176H1377.3V1186.3" stroke="#161616" stroke-width="2.1" fill="none" stroke-linejoin="round"/>
<path d="M1335 1155.1L1335 1165.5M1330.2 1157.5L1339.8 1163.1M1339.8 1157.5L1330.2 1163.1" stroke="#111" stroke-width="2.6" fill="none"/>
<path d="M1142.3 1217V1205.3H1298V1217" stroke="#161616" stroke-width="2.1" fill="none" stroke-linejoin="round"/>
<path d="M1211.8 1184.1L1211.8 1194.5M1207 1186.5L1216.6 1192.1M1216.6 1186.5L1207 1192.1" stroke="#111" stroke-width="2.6" fill="none"/>
<path d="M1224.8 1184.1L1224.8 1194.5M1220 1186.5L1229.6 1192.1M1229.6 1186.5L1220 1192.1" stroke="#111" stroke-width="2.6" fill="none"/>
<path d="M1144 1245.3V1234.7H1226.7V1245.3" stroke="#161616" stroke-width="2.1" fill="none" stroke-linejoin="round"/>
<path d="M1185 1213.5L1185 1223.9M1180.2 1215.9L1189.8 1221.5M1189.8 1215.9L1180.2 1221.5" stroke="#111" stroke-width="2.6" fill="none"/>
</g>
</svg></body></html>
